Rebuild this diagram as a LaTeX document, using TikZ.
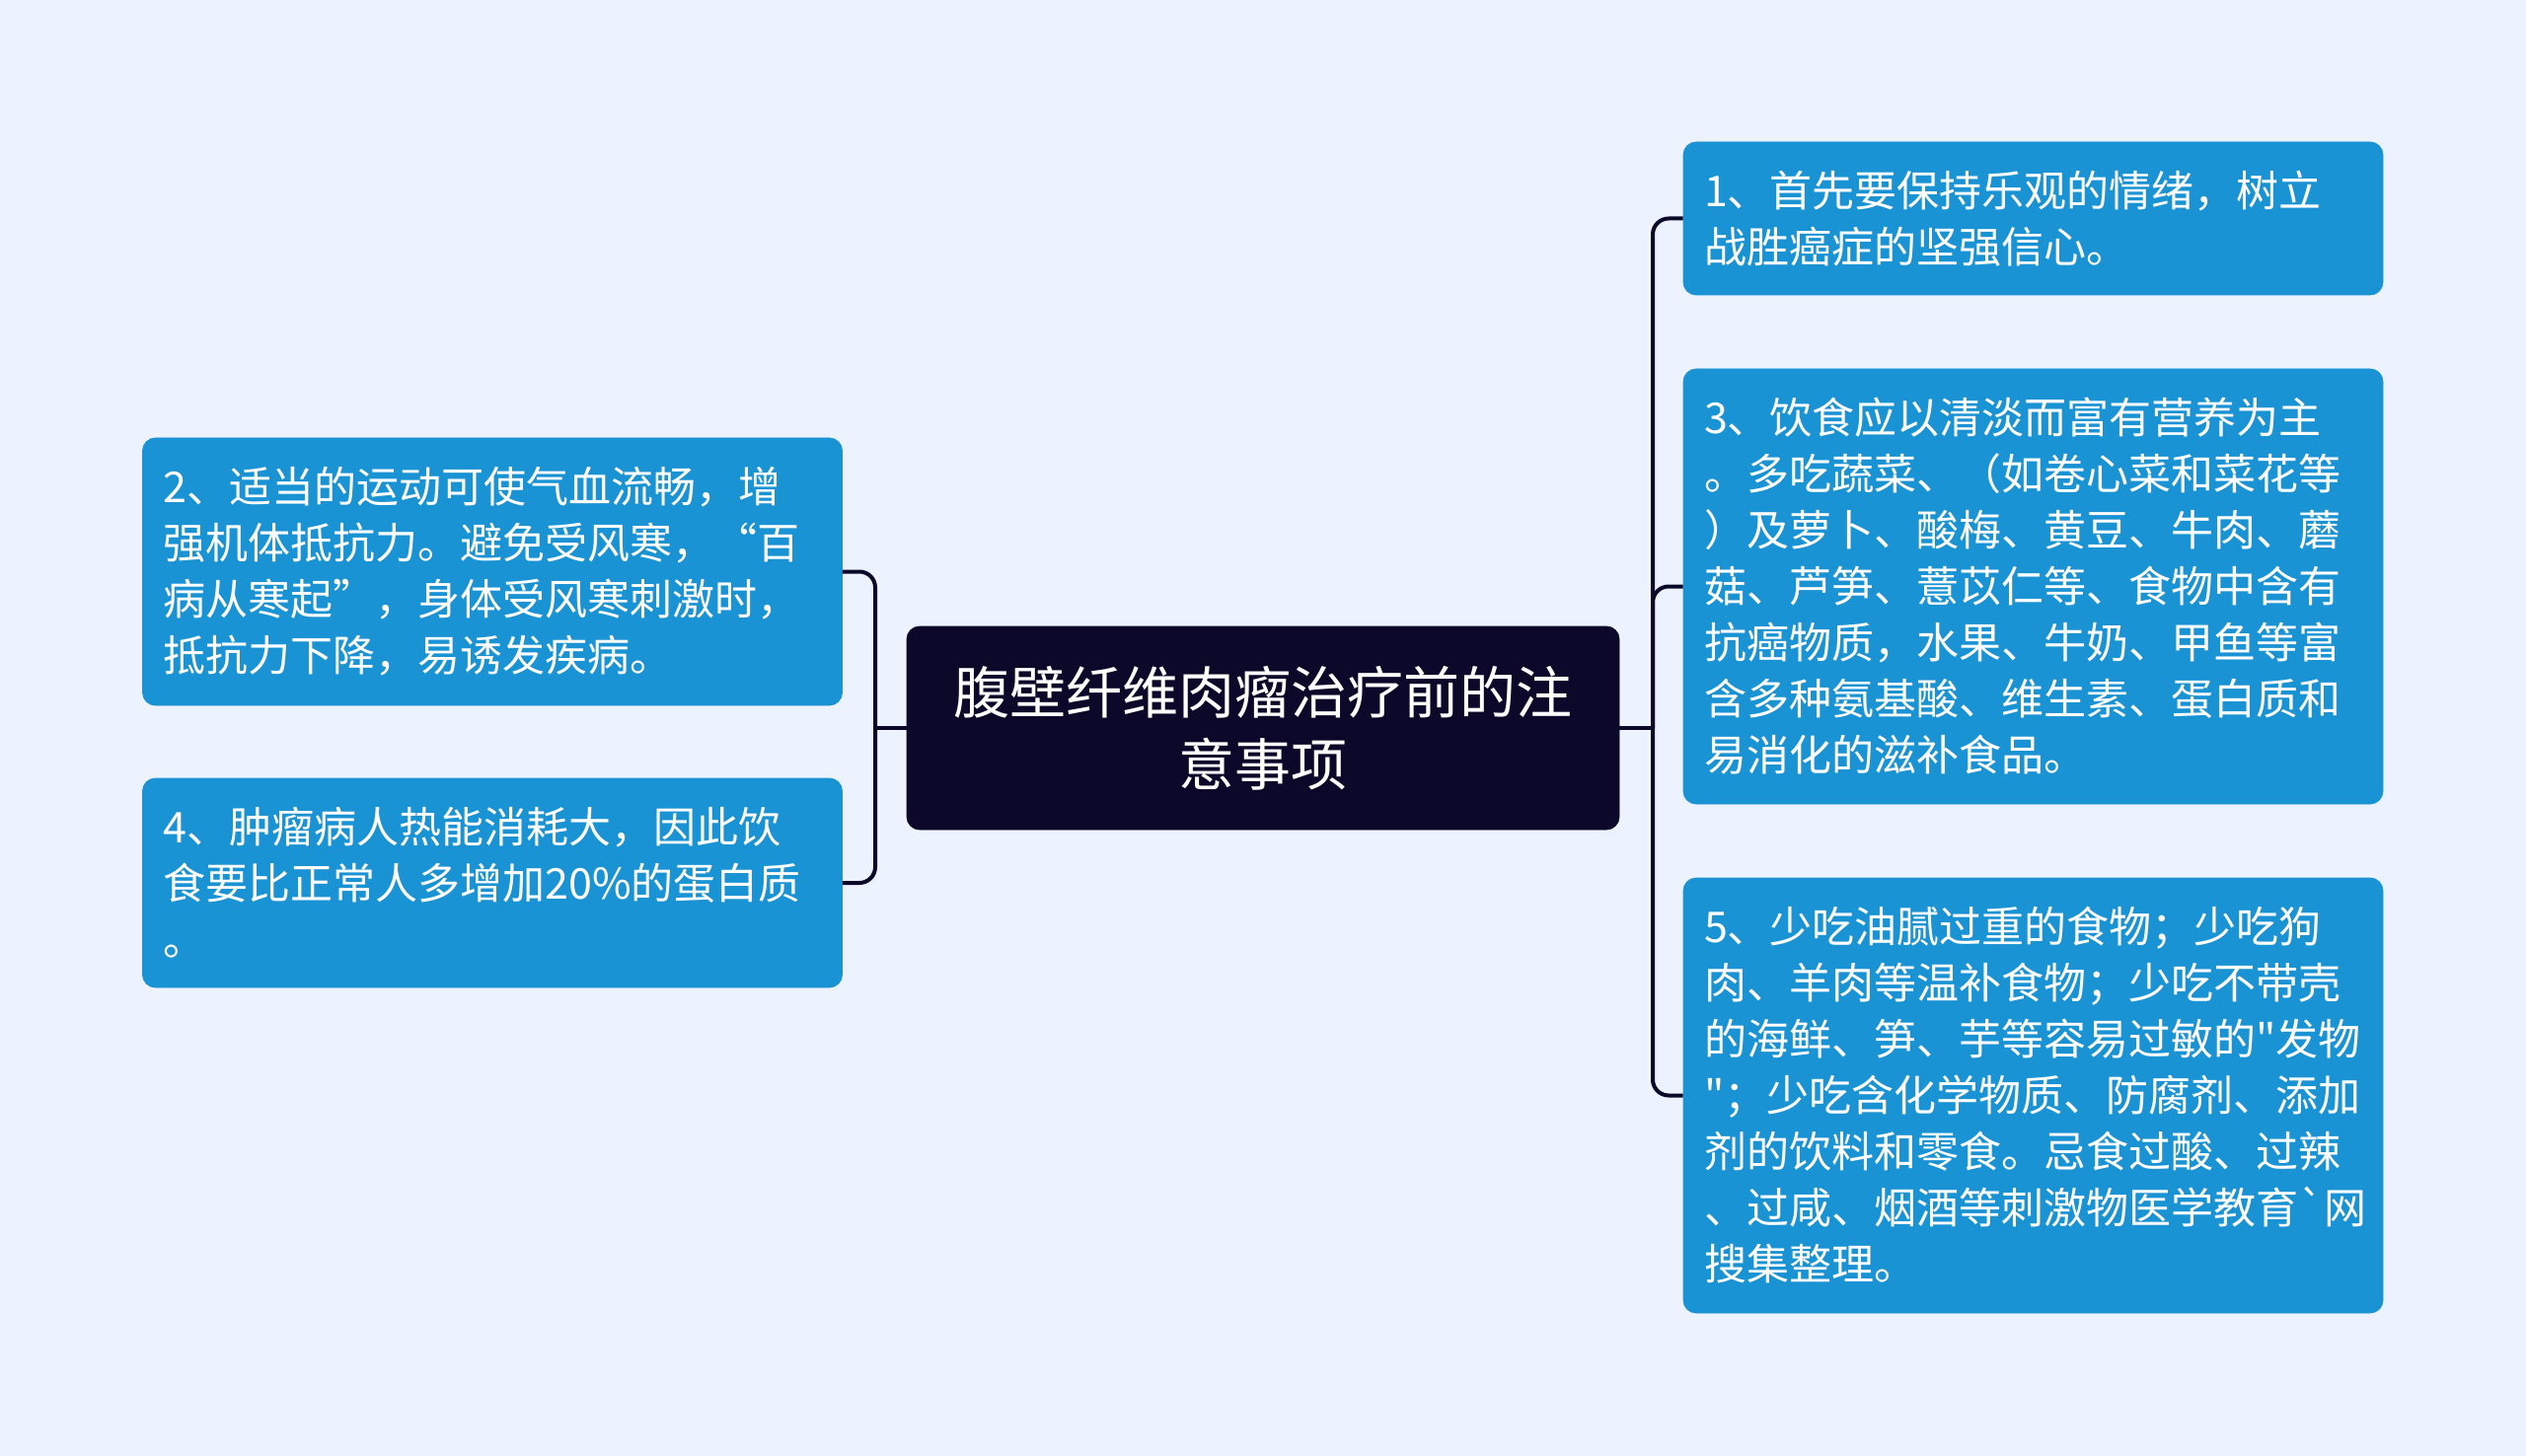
\documentclass[tikz,border=0pt]{standalone}
\usepackage{fontspec}
\newfontfamily\cjkfont{Noto Sans CJK SC}
\usepackage{xcolor}
\definecolor{bgblue}{RGB}{237,243,254}
\definecolor{noteblue}{RGB}{26,147,212}
\definecolor{topicnavy}{RGB}{12,8,42}

\begin{document}
\begin{tikzpicture}[x=0.5pt, y=-0.5pt,
        notebox/.style={rectangle, rounded corners=6.5pt, fill=noteblue, draw=noteblue,
            text=white, text width=333.5pt, inner xsep=10.5pt, inner ysep=0pt,
            align=left, font=\cjkfont\fontsize{21.5pt}{28.5pt}\selectfont},
        topic/.style={rectangle, rounded corners=6.5pt, fill=topicnavy, draw=topicnavy,
            text=white, minimum width=361pt, minimum height=103pt, align=center,
            font=\cjkfont\fontsize{28.5pt}{36.5pt}\selectfont},
        link/.style={draw=topicnavy, line width=2pt, rounded corners=8pt}]
        % Background
        \fill[bgblue] (0,0) rectangle (2560,1476);

        % Nodes
        \node[topic] (t) at (1280,738) {腹壁纤维肉瘤治疗前的注\\意事项};
        \node[notebox, minimum height=135.5pt] (n2) at (499,579.5) {2、适当的运动可使气血流畅，增\\强机体抵抗力。避免受风寒，“百\\病从寒起”，身体受风寒刺激时，\\抵抗力下降，易诱发疾病。};
        \node[notebox, minimum height=106pt] (n4) at (499,895) {4、肿瘤病人热能消耗大，因此饮\\食要比正常人多增加20\%的蛋白质\\。};
        \node[notebox, minimum height=77.5pt] (n1) at (2060.5,221.5) {1、首先要保持乐观的情绪，树立\\战胜癌症的坚强信心。};
        \node[notebox, minimum height=220.5pt] (n3) at (2060.5,594.5) {3、饮食应以清淡而富有营养为主\\。多吃蔬菜、（如卷心菜和菜花等\\）及萝卜、酸梅、黄豆、牛肉、蘑\\菇、芦笋、薏苡仁等、食物中含有\\抗癌物质，水果、牛奶、甲鱼等富\\含多种氨基酸、维生素、蛋白质和\\易消化的滋补食品。};
        \node[notebox, minimum height=220.5pt] (n5) at (2060.5,1110.5) {5、少吃油腻过重的食物；少吃狗\\肉、羊肉等温补食物；少吃不带壳\\的海鲜、笋、芋等容易过敏的"发物\\"；少吃含化学物质、防腐剂、添加\\剂的饮料和零食。忌食过酸、过辣\\、过咸、烟酒等刺激物医学教育`网\\搜集整理。};

        % Joints
        \coordinate (lj) at (887,738);
        \coordinate (rj) at (1675,738);

        % Edges
        \draw[link] (t.west) -- (lj);
        \draw[link] (lj) |- (n2.east);
        \draw[link] (lj) |- (n4.east);
        \draw[link] (t.east) -- (rj);
        \draw[link] (rj) |- (n1.west);
        \draw[link] (rj) |- (n3.west);
        \draw[link] (rj) |- (n5.west);
    \end{tikzpicture}
\end{document}
